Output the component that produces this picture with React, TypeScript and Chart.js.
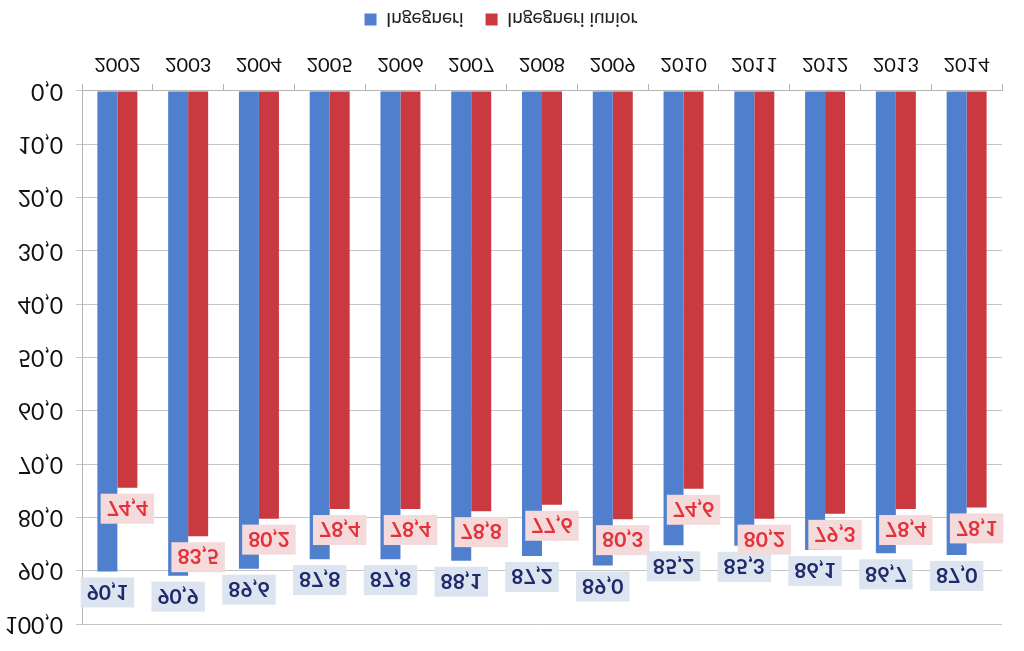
import React, { useEffect, useRef } from "react";
import { Chart, registerables } from "chart.js";

Chart.register(...registerables);

const years = ["2002", "2003", "2004", "2005", "2006", "2007", "2008", "2009", "2010", "2011", "2012", "2013", "2014"];
const ingegneri = [90.1, 90.9, 89.6, 87.8, 87.8, 88.1, 87.2, 89.0, 85.2, 85.3, 86.1, 86.7, 87.0];
const ingegneriIunior = [74.4, 83.5, 80.2, 78.4, 78.4, 78.8, 77.6, 80.3, 74.6, 80.2, 79.3, 78.4, 78.1];
const seriesNames = ["Ingegneri", "Ingegneri iunior"];
const barColors = ["#4f7fcd", "#cb3940"];
const labelBg = ["#dce4f0", "#f4dada"];
const labelFg = ["#1f2a6c", "#e4323b"];

const FONT = "Lato, 'Liberation Sans', sans-serif";

const fmt = (v: number) => v.toFixed(1).replace(".", ",");

const valueLabels = {
  id: "valueLabels",
  afterDatasetsDraw(chart: any) {
    const ctx = chart.ctx;
    ctx.save();
    chart.data.datasets.forEach((ds: any, di: number) => {
      const meta = chart.getDatasetMeta(di);
      meta.data.forEach((bar: any, i: number) => {
        const text = fmt(ds.data[i]);
        ctx.font = `bold 21px ${FONT}`;
        const w = ctx.measureText(text).width + 12;
        const h = 30;
        const bottom = bar.y - 6;
        ctx.fillStyle = labelBg[di];
        ctx.fillRect(bar.x - w / 2, bottom - h, w, h);
        ctx.fillStyle = labelFg[di];
        ctx.textAlign = "center";
        ctx.textBaseline = "middle";
        ctx.fillText(text, bar.x, bottom - h / 2 + 1);
      });
    });
    ctx.restore();
  },
};

export default function App() {
  const ref = useRef<HTMLCanvasElement | null>(null);

  useEffect(() => {
    if (!ref.current) return;
    const chart = new Chart(ref.current, {
      type: "bar",
      data: {
        labels: years,
        datasets: [
          {
            label: seriesNames[0],
            data: ingegneri,
            backgroundColor: barColors[0],
            categoryPercentage: 0.565,
            barPercentage: 1.0,
          },
          {
            label: seriesNames[1],
            data: ingegneriIunior,
            backgroundColor: barColors[1],
            categoryPercentage: 0.565,
            barPercentage: 1.0,
          },
        ],
      },
      options: {
        responsive: false,
        animation: false,
        devicePixelRatio: 1,
        layout: { padding: { top: 16, right: 22, left: 0, bottom: 0 } },
        plugins: {
          legend: {
            position: "bottom",
            labels: {
              boxWidth: 12,
              boxHeight: 12,
              padding: 22,
              color: "#222",
              font: { family: FONT, size: 19 },
            },
          },
          tooltip: { enabled: false },
        },
        scales: {
          x: {
            grid: {
              offset: true,
              drawOnChartArea: false,
              tickLength: 7,
              color: "#b5b5b5",
            },
            border: { color: "#b5b5b5" },
            ticks: {
              color: "#111",
              padding: 8,
              font: { family: FONT, size: 20 },
            },
            afterFit: (s: any) => {
              s.height = 40;
            },
          },
          y: {
            min: 0,
            max: 100,
            grid: { color: "#c4c4c4", tickLength: 6 },
            border: { color: "#b5b5b5" },
            ticks: {
              stepSize: 10,
              color: "#111",
              padding: 13,
              font: { family: FONT, size: 23 },
              callback: (v: any) => fmt(Number(v)),
            },
            afterFit: (s: any) => {
              s.width = 82;
            },
          },
        },
      },
      plugins: [valueLabels],
    });
    return () => chart.destroy();
  }, []);

  return (
    <div
      style={{
        position: "fixed",
        left: 0,
        top: 0,
        width: 1024,
        height: 651,
        background: "#fff",
        transform: "scaleY(-1)",
      }}
    >
      <canvas ref={ref} width={1024} height={651} style={{ display: "block" }} />
    </div>
  );
}
